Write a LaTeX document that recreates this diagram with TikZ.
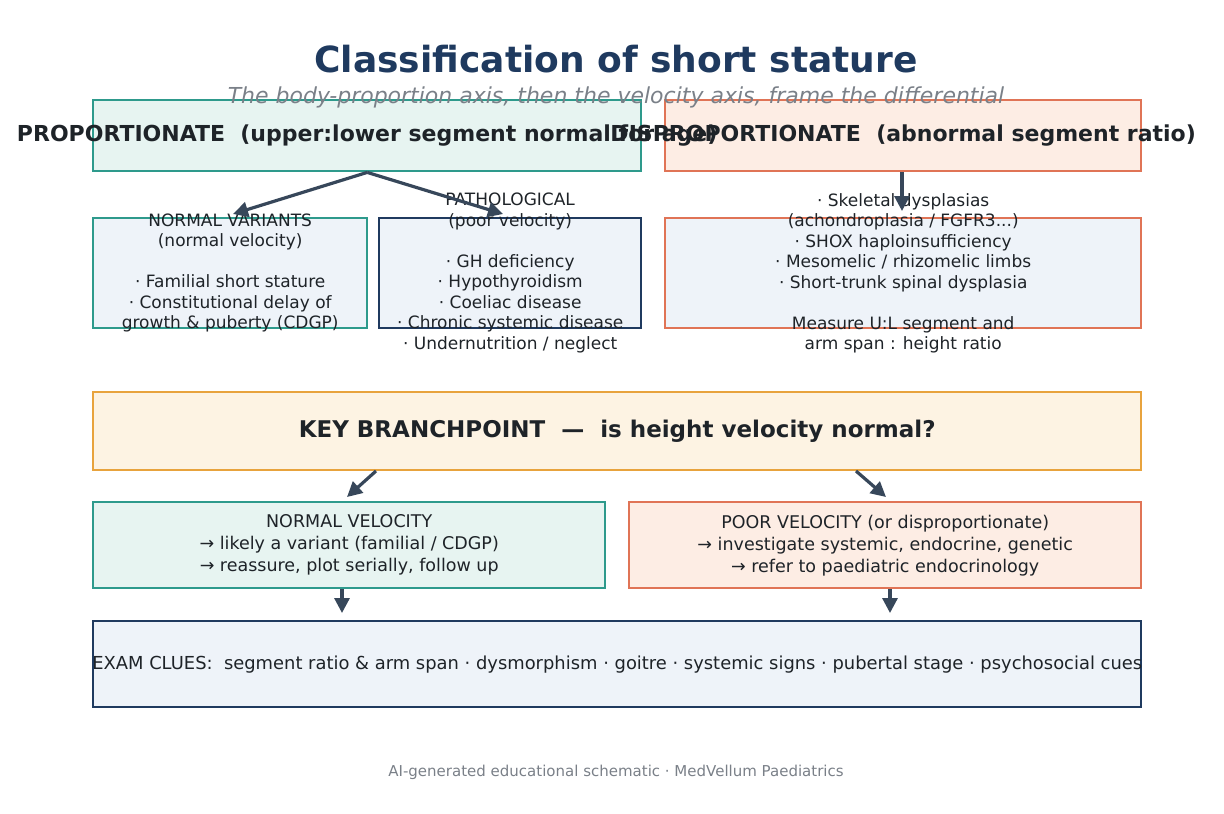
\documentclass[tikz,border=0pt]{standalone}
\usepackage{fontspec}
\setmainfont{DejaVu Sans}
\usetikzlibrary{arrows.meta}
\definecolor{navy}{HTML}{1F3A5F}
\definecolor{tealc}{HTML}{2E9A8C}
\definecolor{orangec}{HTML}{E07456}
\definecolor{goldc}{HTML}{E8A33D}
\definecolor{tealfill}{HTML}{E7F4F1}
\definecolor{orangefill}{HTML}{FDEDE4}
\definecolor{goldfill}{HTML}{FDF3E3}
\definecolor{bluefill}{HTML}{EEF3F9}
\definecolor{arrowc}{HTML}{37475A}
\definecolor{txt}{HTML}{1E2328}
\definecolor{subgray}{HTML}{7A8088}
\tikzset{
  box/.style={draw, line width=2.4pt, inner sep=0pt, anchor=north west},
  boxtext/.style={align=center, text=txt, inner sep=0pt},
  small/.style={font=\fontsize{17}{20.5}\selectfont},
  mid/.style={font=\fontsize{17.5}{22}\selectfont},
  conn/.style={draw=arrowc, line width=3.2pt, -{Triangle[length=15pt,width=15pt]}},
}
\begin{document}
\begin{tikzpicture}[x=1pt,y=-1pt]
\useasboundingbox (0,0) rectangle (1224,814);
% title
\node[text=navy, font=\fontsize{36}{42}\selectfont\bfseries] (title) at (616,59) {Classification of short stature};
% boxes
\node[box, draw=tealc, fill=tealfill, minimum width=548pt, minimum height=71pt] (prop) at (92,99) {};
\node[box, draw=orangec, fill=orangefill, minimum width=476pt, minimum height=71pt] (disp) at (664,99) {};
\node[text=subgray, font=\fontsize{22}{26}\selectfont\itshape] (sub) at (616,97) {The body-proportion axis, then the velocity axis, frame the differential};
\node[boxtext, font=\fontsize{22}{26}\selectfont\bfseries] (propt) at (prop.center) {PROPORTIONATE\ \ (upper:lower segment normal for age)};
\node[boxtext, font=\fontsize{22}{26}\selectfont\bfseries] (dispt) at (disp.center) {DISPROPORTIONATE\ \ (abnormal segment ratio)};

\node[box, draw=tealc, fill=bluefill, minimum width=274pt, minimum height=110pt] (nv) at (92,217) {};
\node[box, draw=navy, fill=bluefill, minimum width=262pt, minimum height=110pt] (path) at (378,217) {};
\node[box, draw=orangec, fill=bluefill, minimum width=476pt, minimum height=110pt] (skel) at (664,217) {};

\node[boxtext, small] (nvt) at (nv.center) {NORMAL VARIANTS\\(normal velocity)\\[20.5pt]· Familial short stature\\· Constitutional delay of\\growth \& puberty (CDGP)};
\node[boxtext, small] (patht) at (path.center) {PATHOLOGICAL\\(poor velocity)\\[20.5pt]· GH deficiency\\· Hypothyroidism\\· Coeliac disease\\· Chronic systemic disease\\· Undernutrition / neglect};
\node[boxtext, small] (skelt) at (skel.center) {· Skeletal dysplasias\\(achondroplasia / FGFR3...)\\· SHOX haploinsufficiency\\· Mesomelic / rhizomelic limbs\\· Short-trunk spinal dysplasia\\[20.5pt]Measure U:L segment and\\arm span : height ratio};

\node[box, draw=goldc, fill=goldfill, minimum width=1048pt, minimum height=78pt] (key) at (92,391) {};
\node[boxtext, font=\fontsize{23}{28}\selectfont\bfseries] (keyt) at (key.center) {KEY BRANCHPOINT\ \ —\ \ is height velocity normal?};

\node[box, draw=tealc, fill=tealfill, minimum width=512pt, minimum height=86pt] (nvel) at (92,501) {};
\node[box, draw=orangec, fill=orangefill, minimum width=512pt, minimum height=86pt] (poor) at (628,501) {};
\node[boxtext, mid] (nvelt) at (nvel.center) {NORMAL VELOCITY\\→ likely a variant (familial / CDGP)\\→ reassure, plot serially, follow up};
\node[boxtext, mid] (poort) at (poor.center) {POOR VELOCITY (or disproportionate)\\→ investigate systemic, endocrine, genetic\\→ refer to paediatric endocrinology};

\node[box, draw=navy, fill=bluefill, minimum width=1048pt, minimum height=86pt] (exam) at (92,620) {};
\node[boxtext, font=\fontsize{17.9}{22}\selectfont] (examt) at (exam.center) {EXAM CLUES:\ \ segment ratio \& arm span · dysmorphism · goitre · systemic signs · pubertal stage · psychosocial cues};

\node[text=subgray, font=\fontsize{15}{18}\selectfont] (foot) at (616,772) {AI-generated educational schematic · MedVellum Paediatrics};

% connectors
\coordinate (e1) at (233,214);
\coordinate (e2) at (503,214);
\coordinate (e3) at (902,211);
\coordinate (s4) at (376,471);
\coordinate (e4) at (347,497);
\coordinate (s5) at (856,471);
\coordinate (e5) at (886,497);
\coordinate (s6) at (342,589);
\coordinate (e6) at (342,613);
\coordinate (s7) at (890,589);
\coordinate (e7) at (890,613);
\draw[conn] (prop.south) -- (e1);
\draw[conn] (prop.south) -- (e2);
\draw[conn] (disp.south -| e3) -- (e3);
\draw[conn] (s4) -- (e4);
\draw[conn] (s5) -- (e5);
\draw[conn] (s6) -- (e6);
\draw[conn] (s7) -- (e7);
\end{tikzpicture}
\end{document}
